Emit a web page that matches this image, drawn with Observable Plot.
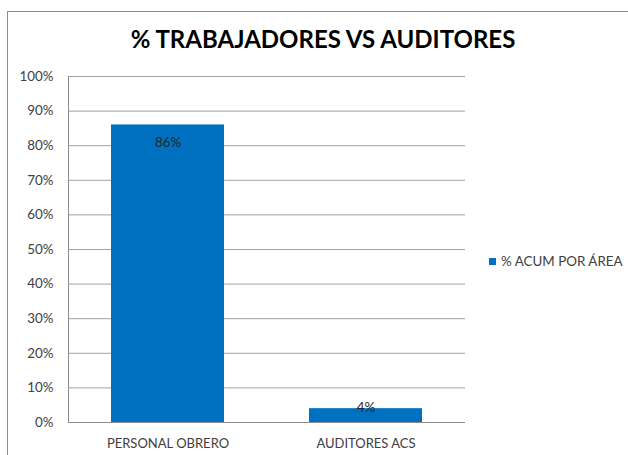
<!DOCTYPE html>
<html>
<head>
<meta charset="utf-8">
<script src="https://cdn.jsdelivr.net/npm/d3@7"></script>
<script src="https://cdn.jsdelivr.net/npm/@observablehq/plot@0.6"></script>
<style>
  html, body { margin: 0; padding: 0; background: #fff; overflow: hidden; }
  #wrap { position: relative; width: 628px; height: 455px; font-family: Lato, "Open Sans", sans-serif; }
  #frame { position: absolute; left: 7px; top: 11px; width: 700px; height: 500px; border: 1px solid #8c8c8c; box-sizing: border-box; }
  #title { position: absolute; left: 0; width: 646px; top: 27px; text-align: center; font-size: 24px; line-height: 24px; font-weight: 700; color: #000; white-space: nowrap; }
  #legend { position: absolute; left: 489px; top: 252px; height: 18px; display: flex; align-items: center; font-size: 13.4px; color: #404040; white-space: nowrap; }
  #legend .sw { width: 7px; height: 7px; background: #0070C0; margin-right: 5px; }
  #chart { position: absolute; left: 0; top: 0; }
</style>
</head>
<body>
<div id="wrap">
  <div id="frame"></div>
  <div id="chart"></div>
  <div id="title"></div>
  <div id="legend"><div class="sw"></div><span id="legtext"></span></div>
</div>
<script>
const titulo = "% TRABAJADORES VS AUDITORES";
const serie = "% ACUM POR ÁREA";
const categorias = ["PERSONAL OBRERO", "AUDITORES ACS"];
const valores = [0.86, 0.04];
const etiquetas = ["86%", "4%"];
const yTicks = [0, 0.1, 0.2, 0.3, 0.4, 0.5, 0.6, 0.7, 0.8, 0.9, 1.0];

const data = categorias.map((c, i) => ({cat: c, value: valores[i], label: etiquetas[i]}));

document.getElementById("title").textContent = titulo;
document.getElementById("legtext").textContent = serie;

const chart = Plot.plot({
  width: 628,
  height: 455,
  marginLeft: 68,
  marginRight: 163,
  marginTop: 76,
  marginBottom: 33,
  style: {fontFamily: "Lato, 'Open Sans', sans-serif", fontSize: "13px", color: "#404040", background: "transparent"},
  x: {domain: categorias, paddingInner: 0.43, paddingOuter: 0.215, label: null},
  y: {domain: [0, 1], label: null},
  marks: [
    Plot.gridY(yTicks, {stroke: "#a0a0a0", strokeOpacity: 1}),
    Plot.barY(data, {x: "cat", y: "value", fill: "#0070C0"}),
    Plot.ruleY([0], {stroke: "#8c8c8c"}),
    Plot.frame({anchor: "left", stroke: "#8c8c8c"}),
    Plot.axisY(yTicks, {tickSize: 0, tickPadding: 15, tickFormat: d => Math.round(d * 100) + "%", label: null, fill: "#404040", fontSize: 13.4}),
    Plot.axisX({tickSize: 0, tickPadding: 16, label: null, fill: "#404040"}),
    Plot.text(data.filter(d => d.value >= 0.1), {x: "cat", y: "value", text: "label", dy: 18, fill: "#262626", fontSize: 13.4}),
    Plot.text(data.filter(d => d.value < 0.1), {x: "cat", y: "value", text: "label", dy: -1, fill: "#262626", fontSize: 13.4})
  ]
});
document.getElementById("chart").appendChild(chart);
</script>
</body>
</html>
